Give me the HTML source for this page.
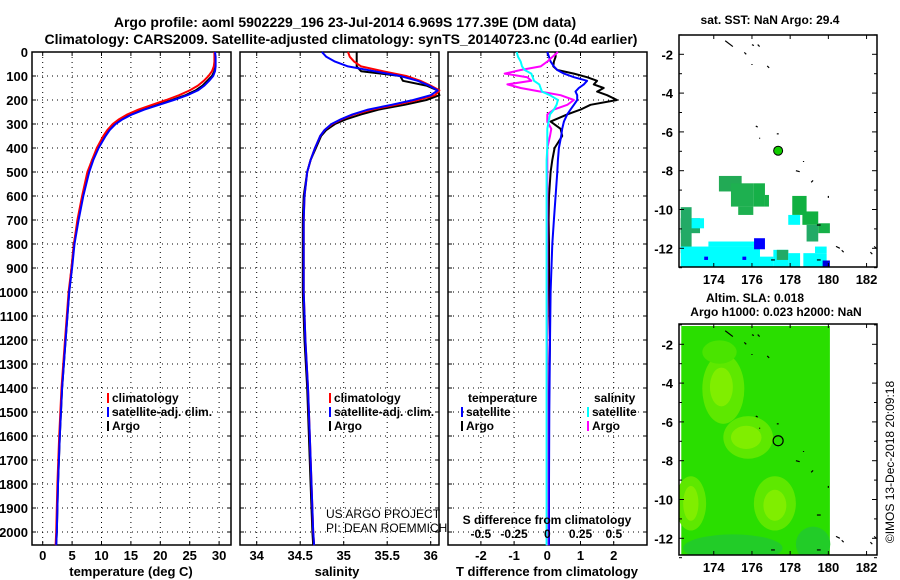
<!DOCTYPE html>
<html><head><meta charset="utf-8"><style>
html,body{margin:0;padding:0;background:#fff;width:900px;height:580px;overflow:hidden}
svg{display:block;font-family:"Liberation Sans",sans-serif}
.b{font-weight:bold}
</style></head><body>
<svg id="c" width="900" height="580" viewBox="0 0 900 580" xmlns="http://www.w3.org/2000/svg">
<defs><clipPath id="slaclip"><rect x="679" y="324" width="198" height="231"/></clipPath></defs>
<text x="345" y="27" text-anchor="middle" font-size="14" class="b">Argo profile: aoml 5902229_196 23-Jul-2014 6.969S 177.39E (DM data)</text>
<text x="341" y="44" text-anchor="middle" font-size="14" class="b">Climatology: CARS2009. Satellite-adjusted climatology: synTS_20140723.nc (0.4d earlier)</text>
<g id="g"></g>
</svg>
<script>
// ---- profile data ----
const depths=[0,20,40,60,80,100,120,140,160,180,200,220,240,260,280,300,325,350,400,450,500,600,700,800,900,1000,1200,1400,1600,1800,2000,2055];
const tempArgo=[29.3,29.3,29.3,29.3,29.2,28.8,28.0,27.2,26.0,24.3,22.0,19.5,17.0,15.0,13.4,12.2,11.2,10.5,9.3,8.4,7.7,6.8,6.0,5.3,4.9,4.5,3.9,3.3,2.9,2.6,2.4,2.3];
const tempClim=[29.2,29.2,29.2,29.1,28.8,28.2,27.4,26.4,25.0,23.2,21.0,18.6,16.3,14.4,13.0,11.9,11.0,10.3,9.2,8.4,7.6,6.7,5.9,5.3,4.9,4.4,3.8,3.2,2.8,2.5,2.3,2.2];
const tempSat=[29.3,29.4,29.4,29.4,29.3,29.0,28.3,27.5,26.4,24.6,22.3,19.8,17.3,15.2,13.6,12.4,11.4,10.7,9.5,8.6,7.9,6.9,6.1,5.4,5.0,4.5,3.9,3.3,2.9,2.6,2.4,2.3];
const salArgo=[35.15,35.15,35.15,35.15,35.2,35.65,35.68,35.95,36.08,36.1,35.95,35.7,35.4,35.2,35.03,34.9,34.8,34.74,34.68,34.62,34.58,34.54,34.53,34.53,34.53,34.53,34.55,34.58,34.6,34.62,34.64,34.65];
const salClim=[35.05,35.07,35.12,35.2,35.45,35.72,35.88,36.0,36.1,36.05,35.85,35.6,35.32,35.12,34.98,34.87,34.78,34.73,34.67,34.62,34.58,34.55,34.54,34.54,34.54,34.54,34.56,34.59,34.61,34.63,34.65,34.66];
const salSat=[34.75,34.8,34.9,35.05,35.35,35.65,35.85,35.98,36.08,36.0,35.8,35.55,35.28,35.1,34.97,34.86,34.78,34.73,34.67,34.62,34.58,34.55,34.54,34.54,34.54,34.54,34.56,34.59,34.61,34.63,34.65,34.66];
const diffDepths=[0,20,40,60,75,90,105,120,135,150,165,180,200,220,240,260,290,320,350,400,450,500,600,700,800,1000,1200,1500,1800,2055];
const dTempArgo=[0.25,0.25,0.2,0.18,0.3,0.8,1.2,1.5,1.4,1.7,1.5,1.8,2.1,1.3,1.0,0.6,0.1,0.4,0.45,0.22,0.15,0.1,0.05,0.04,0.05,0.05,0.08,0.04,0.04,0.05];
const dTempSat=[0.0,0.05,0.1,0.2,0.3,0.5,0.8,1.2,1.1,0.95,0.85,0.9,0.9,0.8,0.7,0.6,0.5,0.45,0.42,0.35,0.32,0.3,0.25,0.2,0.15,0.1,0.08,0.06,0.05,0.05];
const dSalArgo=[0.08,0.04,0,-0.05,-0.2,-0.32,-0.15,-0.12,-0.3,-0.2,-0.05,0.1,0.2,0.15,0.05,0.0,0.0,0.03,0.02,0,0,0,0,0,0,0,0,0,0,0];
const dSalSat=[-0.23,-0.22,-0.2,-0.19,-0.17,-0.12,-0.11,-0.1,-0.06,-0.05,-0.04,0.02,0.08,0.07,0.05,0.02,0.01,0,0,0,-0.005,-0.005,-0.005,-0.005,-0.005,-0.005,-0.005,-0.005,-0.005,-0.005];
const depthTicks=[0,100,200,300,400,500,600,700,800,900,1000,1100,1200,1300,1400,1500,1600,1700,1800,1900,2000];
const tempTicks=[0,5,10,15,20,25,30];
const salTicks=[34,34.5,35,35.5,36];
const salTickLabels=["34","34.5","35","35.5","36"];
const dTempTicks=[-2,-1,0,1,2];
const dSalTicks=[-0.5,-0.25,0,0.25,0.5];
const dSalTickLabels=["-0.5","-0.25","0","0.25","0.5"];
// ---- map data ----
const sstCells=[
[174.27,175.46,-8.27,-9.07,"#22aa55"],[174.9,176.07,-8.65,-9.85,"#1eb050"],[175.28,176.07,-9.85,-10.28,"#1eb050"],
[176.07,176.68,-8.65,-9.85,"#16b048"],[176.68,176.89,-9.25,-9.85,"#16b048"],
[178.11,178.86,-9.3,-10.28,"#10b040"],[178.64,179.47,-10.1,-10.79,"#10b040"],[178.86,179.47,-10.79,-11.65,"#22aa66"],
[179.47,180.08,-10.71,-11.22,"#16b048"],[177.9,178.52,-10.28,-10.79,"#00ffff"],
[172.27,172.84,-9.88,-12.25,"#22aa66"],[172.27,173.28,-10.45,-11.22,"#22aa66"],[172.84,173.49,-10.45,-10.97,"#00ffff"],
[172.27,176.42,-11.91,-12.96,"#00ffff"],[173.72,176.42,-11.65,-11.91,"#00ffff"],[176.42,177.12,-12.43,-12.96,"#00ffff"],
[177.12,177.9,-12.08,-12.96,"#00ffff"],[177.3,177.9,-12.08,-12.6,"#22aa66"],[177.9,178.52,-12.25,-12.96,"#00ffff"],
[178.69,179.91,-12.25,-12.96,"#00ffff"],[179.3,179.91,-11.91,-12.25,"#00ffff"],
[176.11,176.68,-11.48,-12.05,"#0000ff"],[179.7,180.08,-12.63,-12.96,"#0000dd"],
[173.5,173.7,-12.43,-12.6,"#0000ff"],[175.5,175.7,-12.43,-12.6,"#0000ff"]];
const slaBlobs=[
[174.5,-4.3,1.1,1.8,"#5ee800"],[174.4,-4.2,0.6,1.0,"#80ee00"],
[175.8,-6.8,1.3,1.1,"#5ee800"],[175.7,-6.8,0.8,0.6,"#80ee00"],
[177.2,-10.2,1.1,1.4,"#5ee800"],[177.2,-10.3,0.6,0.8,"#80ee00"],
[172.8,-10.2,0.8,1.4,"#5ee800"],[172.8,-10.2,0.4,0.9,"#80ee00"],
[174.3,-2.4,0.9,0.6,"#4ae400"],[175.0,-12.5,2.6,0.7,"#22cc28"],[179.2,-12.3,0.9,0.9,"#22cc28"]];
const argoLon=177.37, argoLat=-6.97;
const coast=[[174.6,-1.3,175.0,-1.6],[176.0,-1.5,176.1,-1.55],[176.3,-1.5,176.4,-1.6],[175.6,-1.9,175.7,-2.0],[176.0,-2.5,176.0,-2.55],[176.8,-2.6,176.9,-2.7],[176.2,-5.7,176.3,-5.75],[176.4,-6.3,176.4,-6.35],[177.3,-6.1,177.4,-6.1],[178.7,-7.5,178.7,-7.55],[178.3,-8.0,178.5,-8.05],[179.2,-8.5,179.1,-8.6],[180.0,-9.3,180.0,-9.4],[179.4,-10.8,179.6,-10.8],[180.4,-11.9,180.6,-12.0],[180.7,-12.1,180.8,-12.2],[182.4,-11.9,182.5,-12.0],[182.2,-12.2,182.3,-12.3],[177.0,-12.6,177.2,-12.6],[179.4,-12.6,179.6,-12.6]];

const NS="http://www.w3.org/2000/svg";
const G=document.getElementById('g');
function el(t,a,p){const e=document.createElementNS(NS,t);for(const k in a)e.setAttribute(k,a[k]);(p||G).appendChild(e);return e;}
function txt(x,y,s,a){const e=el('text',Object.assign({x:x,y:y,'font-size':13,'font-weight':'bold'},a||{}));e.textContent=s;return e;}
const PT=52,PB=545;
const yD=d=>PT+d*0.24;
function panel(x0,x1,name){
  const r=el('rect',{x:x0,y:PT,width:x1-x0,height:PB-PT,fill:'none',stroke:'#000','stroke-width':1.5});
  
  
  depthTicks.forEach(d=>{if(d>0){const l=el('line',{x1:x0,x2:x1,y1:yD(d),y2:yD(d),stroke:'#000','stroke-dasharray':'1,4'});
    
    
    el('line',{x1:x0,x2:x0+4,y1:yD(d),y2:yD(d),stroke:'#000'});el('line',{x1:x1-4,x2:x1,y1:yD(d),y2:yD(d),stroke:'#000'});}});
}
function vgrid(x){const l=el('line',{x1:x,x2:x,y1:PT,y2:PB,stroke:'#000','stroke-dasharray':'1,4'});
  
  
  el('line',{x1:x,x2:x,y1:PB-4,y2:PB,stroke:'#000'});el('line',{x1:x,x2:x,y1:PT,y2:PT+4,stroke:'#000'});}
function line(xs,ds,fx,color,name,w){
  const pts=ds.map((d,i)=>fx(xs[i]).toFixed(1)+','+yD(d).toFixed(1));
  const p=el('polyline',{points:pts.join(' '),fill:'none',stroke:color,'stroke-width':w||2,'stroke-linejoin':'round'});
  
  
}
depthTicks.forEach(d=>{const t=txt(28,yD(d)+5,String(d),{'text-anchor':'end'});
  
  });
// Panel 1 temperature
const xT=v=>42.7+v*5.88;
panel(32,231,'temperature-panel');
tempTicks.forEach(v=>{vgrid(xT(v));const t=txt(xT(v),560,String(v),{'text-anchor':'middle'});
  
  });
line(tempArgo,depths,xT,'#000','temperature-argo-line');
line(tempClim,depths,xT,'#f00','temperature-climatology-line');
line(tempSat,depths,xT,'#00f','temperature-satellite-line');
let t1=txt(131,576,'temperature (deg C)',{'text-anchor':'middle'});


function legend(x,y,items,name){items.forEach((it,i)=>{el('rect',{x:x,y:y+i*14-9,width:2,height:10,fill:it[1]});
  const t=txt(x+5,y+i*14,it[0],{'font-size':12});
  
  });}
legend(107,402,[['climatology','#f00'],['satellite-adj. clim.','#00f'],['Argo','#000']],'temperature-legend');
// Panel 2 salinity
const xS=v=>256.7+(v-34)*87;
panel(240,439,'salinity-panel');
salTicks.forEach((v,i)=>{vgrid(xS(v));const t=txt(xS(v),560,salTickLabels[i],{'text-anchor':'middle'});
  
  });
line(salArgo,depths,xS,'#000','salinity-argo-line');
line(salClim,depths,xS,'#f00','salinity-climatology-line');
line(salSat,depths,xS,'#00f','salinity-satellite-line');
let t2=txt(337,576,'salinity',{'text-anchor':'middle'});


legend(329,402,[['climatology','#f00'],['satellite-adj. clim.','#00f'],['Argo','#000']],'salinity-legend');
let c1=txt(326,518,'US ARGO PROJECT',{'font-weight':'normal','font-size':12});


let c2=txt(326,532,'PI: DEAN ROEMMICH',{'font-weight':'normal','font-size':12});


// Panel 3 differences
const xDT=v=>547.3+v*33.2;
const xDS=v=>547.3+v*133;
panel(448,647,'difference-panel');
dTempTicks.forEach(v=>{vgrid(xDT(v));const t=txt(xDT(v),560,String(v),{'text-anchor':'middle'});
  
  });
line(dTempArgo,diffDepths,xDT,'#000','temp-diff-argo-line');
line(dTempSat,diffDepths,xDT,'#00f','temp-diff-satellite-line');
line(dSalArgo,diffDepths,xDS,'#f0f','sal-diff-argo-line');
line(dSalSat,diffDepths,xDS,'#0ff','sal-diff-satellite-line');
dSalTicks.forEach((v,i)=>{const t=txt(xDS(v),538,dSalTickLabels[i],{'text-anchor':'middle','font-size':12});
  
  });
let t3=txt(547,524,'S difference from climatology',{'text-anchor':'middle','font-size':12});


let t4=txt(547,576,'T difference from climatology',{'text-anchor':'middle'});


let t5=txt(468,402,'temperature',{'font-size':12});


let t6=txt(594,402,'salinity',{'font-size':12});


legend(461,416,[['satellite','#00f'],['Argo','#000']],'diff-legend-temperature');
legend(587,416,[['satellite','#0ff'],['Argo','#f0f']],'diff-legend-salinity');
// Maps
const mx0=679,mx1=877;
const mX=lon=>679+(lon-172.18)*19.1;
const lonTicks=[174,176,178,180,182];
const latTicks=[-2,-4,-6,-8,-10,-12];
function mapFrame(y0,y1,yLat,name){
  lonTicks.forEach(l=>{el('line',{x1:mX(l),x2:mX(l),y1:y1,y2:y1-4,stroke:'#000'});el('line',{x1:mX(l),x2:mX(l),y1:y0,y2:y0+4,stroke:'#000'});
    const t=txt(mX(l),y1+17,String(l),{'text-anchor':'middle'});
    
    });
  for(let la=-1;la>=-13;la--){const len=(la%2===0)?5:3;el('line',{x1:mx0,x2:mx0+len,y1:yLat(la),y2:yLat(la),stroke:'#000'});el('line',{x1:mx1-len,x2:mx1,y1:yLat(la),y2:yLat(la),stroke:'#000'});}
  latTicks.forEach(l=>{const t=txt(673,yLat(l)+5,String(l),{'text-anchor':'end'});
    
    });
  const r=el('rect',{x:mx0,y:y0,width:mx1-mx0,height:y1-y0,fill:'none',stroke:'#000','stroke-width':1.5});
  
  
}
function coastLines(yLat){coast.forEach(c=>{el('line',{x1:mX(c[0]),y1:yLat(c[1]),x2:mX(c[2]),y2:yLat(c[3]),stroke:'#000','stroke-width':1.2});});}
// Map 1
const y1Lat=la=>54.3+(-2-la)*19.4;
sstCells.forEach(c=>{const r=el('rect',{x:mX(c[0]),y:y1Lat(c[2]),width:mX(c[1])-mX(c[0]),height:y1Lat(c[3])-y1Lat(c[2]),fill:c[4]});
  
  });
coastLines(y1Lat);
let am=el('circle',{cx:mX(argoLon),cy:y1Lat(argoLat),r:4.5,fill:'#11cc00',stroke:'#000','stroke-width':1});


mapFrame(35,267,y1Lat,'sst-map');
let m1=txt(770,24,'sat. SST: NaN Argo: 29.4',{'text-anchor':'middle','font-size':12});


// Map 2
const y2Lat=la=>344.3+(-2-la)*19.4;
const slaG=el('g',{'clip-path':'url(#slaclip)'});


let base=el('rect',{x:mX(172.3),y:326,width:mX(180.08)-mX(172.3),height:229,fill:'#2ade00'},slaG);


slaBlobs.forEach(b=>{const e=el('ellipse',{cx:mX(b[0]),cy:y2Lat(b[1]),rx:b[2]*19.1,ry:b[3]*19.4,fill:b[4]},slaG);
  
  });
coastLines(y2Lat);
let am2=el('circle',{cx:mX(argoLon),cy:y2Lat(argoLat),r:5,fill:'none',stroke:'#000','stroke-width':1.2});


mapFrame(324,555,y2Lat,'sla-map');
let m2=txt(755,302,'Altim. SLA: 0.018',{'text-anchor':'middle','font-size':12});


let m3=txt(776,316,'Argo h1000: 0.023 h2000: NaN',{'text-anchor':'middle','font-size':12});


let cp=txt(0,0,'©IMOS 13-Dec-2018 20:09:18',{'text-anchor':'middle','font-size':12,'font-weight':'normal',transform:'translate(894,462) rotate(-90)'});


</script>
</body></html>
